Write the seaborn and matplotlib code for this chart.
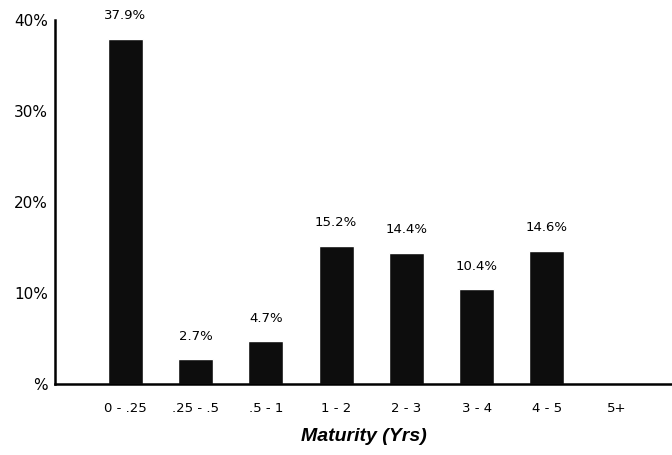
import matplotlib
matplotlib.use("Agg")
import matplotlib.pyplot as plt
import seaborn as sns
import pandas as pd

categories = ["0 - .25", ".25 - .5", ".5 - 1", "1 - 2", "2 - 3", "3 - 4", "4 - 5", "5+"]
values = [37.9, 2.7, 4.7, 15.2, 14.4, 10.4, 14.6, 0.0]
bar_labels = ["37.9%", "2.7%", "4.7%", "15.2%", "14.4%", "10.4%", "14.6%", ""]
y_ticks = [0, 10, 20, 30, 40]
y_tick_labels = ["%", "10%", "20%", "30%", "40%"]

df = pd.DataFrame({"Maturity": categories, "Share": values})

sns.set_style("white")
plt.rcParams['font.family'] = ['DejaVu Sans']
plt.rcParams['text.color'] = 'black'
plt.rcParams['xtick.color'] = 'black'
plt.rcParams['ytick.color'] = 'black'
plt.rcParams['axes.labelcolor'] = 'black'

fig = plt.figure(figsize=(6.72, 4.55), dpi=100)
ax = fig.add_axes([55/672, 1 - 384/455, 1 - 55/672, (384 - 20)/455])

sns.barplot(data=df, x="Maturity", y="Share", color="#0d0d0d", width=0.5,
            saturation=1, ax=ax, order=categories)

for i, (v, lab) in enumerate(zip(values, bar_labels)):
    if lab:
        ax.annotate(lab, (i, v), xytext=(0, 12), textcoords="offset points",
                    ha="center", va="bottom", fontsize=9.5, color="black")

ax.set_ylim(0, 40)
ax.set_xlim(-1.0, 7.78)
ax.set_yticks(y_ticks)
ax.set_yticklabels(y_tick_labels, fontsize=11)
ax.tick_params(axis="y", length=0, pad=5, labelcolor="black")
ax.tick_params(axis="x", length=0, pad=13, labelsize=9.5, labelcolor="black")
ax.set_ylabel("")
ax.set_xlabel("Maturity (Yrs)", fontsize=14, fontweight="bold", fontstyle="italic",
              family=["Liberation Sans", "DejaVu Sans"], labelpad=9, color="black")

for s in ["top", "right"]:
    ax.spines[s].set_visible(False)
for s in ["left", "bottom"]:
    ax.spines[s].set_color("black")
    ax.spines[s].set_linewidth(1.8)

fig.savefig("out.png", dpi=100)
